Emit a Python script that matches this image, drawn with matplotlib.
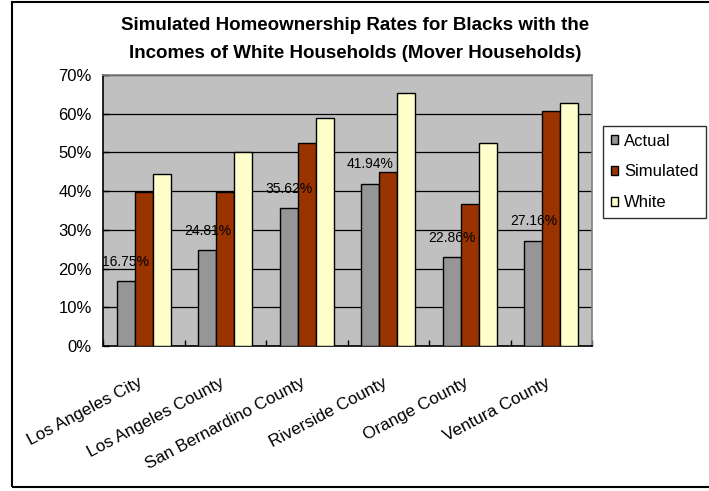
import matplotlib
matplotlib.use("Agg")
import matplotlib.pyplot as plt
from matplotlib.patches import Rectangle
import matplotlib.transforms as mtransforms
import numpy as np

plt.rcParams['font.family'] = ['Liberation Sans', 'DejaVu Sans']

categories = ["Los Angeles City", "Los Angeles County", "San Bernardino County",
              "Riverside County", "Orange County", "Ventura County"]
actual = [16.75, 24.81, 35.62, 41.94, 22.86, 27.16]
simulated = [39.7, 39.7, 52.4, 45.0, 36.7, 60.7]
white = [44.3, 50.0, 58.8, 65.3, 52.4, 62.7]
series_names = ["Actual", "Simulated", "White"]
colors = ["#969696", "#993300", "#FFFFCC"]
yticks = [0, 10, 20, 30, 40, 50, 60, 70]
title_lines = ["Simulated Homeownership Rates for Blacks with the",
               "Incomes of White Households (Mover Households)"]

fig = plt.figure(figsize=(7.09, 4.91), dpi=100)
W, H = 709, 491
ax = fig.add_axes([103 / W, 1 - 346 / H, (592 - 103) / W, (346 - 75) / H])
ax.set_facecolor("#C0C0C0")

x = np.arange(len(categories))
bw = 0.22
for i, (vals, c, name) in enumerate(zip([actual, simulated, white], colors, series_names)):
    ax.bar(x + (i - 1) * bw, vals, width=bw, color=c, edgecolor="black",
           linewidth=1.0, label=name, zorder=3)

for xi, v in zip(x, actual):
    ax.annotate(f"{v:.2f}%", (xi - bw, v), xytext=(0, 14), textcoords="offset points",
                ha="center", va="center", fontsize=10, zorder=4)

ax.set_xlim(-0.5, len(categories) - 0.5)
ax.set_ylim(0, 70)
ax.set_yticks(yticks)
ax.set_yticklabels([f"{t}%" for t in yticks], fontsize=12)
ax.yaxis.grid(True, color="black", linewidth=0.9, zorder=1)
ax.set_axisbelow(True)

ax.set_xticks(np.arange(len(categories) + 1) - 0.5, minor=False)
ax.set_xticklabels([])
ax.tick_params(axis="x", which="major", direction="in", length=4, width=1)
ax.set_xticks(x, minor=True)
ax.set_xticklabels(categories, minor=True, rotation=28, ha="right",
                   rotation_mode="anchor", fontsize=12.3)
ax.tick_params(axis="x", which="minor", length=0, pad=21)
ax.tick_params(axis="y", direction="in", length=4, width=1, pad=8)
offset = mtransforms.ScaledTranslation(-6 / 100, 0, fig.dpi_scale_trans)
for lbl in ax.get_xticklabels(minor=True):
    lbl.set_transform(lbl.get_transform() + offset)

for s in ["left", "bottom"]:
    ax.spines[s].set_color("black")
    ax.spines[s].set_linewidth(1.2)
for s in ["top", "right"]:
    ax.spines[s].set_color("#808080")
    ax.spines[s].set_linewidth(1.2)

fig.text(355 / W, 1 - 25 / H, title_lines[0], ha="center", va="center", fontsize=13.5,
         fontweight="bold")
fig.text(355 / W, 1 - 54 / H, title_lines[1], ha="center", va="center", fontsize=13.5,
         fontweight="bold")

leg = fig.legend(loc="upper left", bbox_to_anchor=(603 / W, 1 - 126 / H),
                 frameon=True, fancybox=False, fontsize=12, handlelength=0.45,
                 handleheight=0.45, handletextpad=0.35, borderpad=0.45,
                 labelspacing=0.95, borderaxespad=0)
leg.get_frame().set_edgecolor("black")
leg.get_frame().set_linewidth(1.0)

fig.patches.append(Rectangle((12 / W, 1 - 487 / H), (720 - 12) / W, (487 - 2) / H,
                             transform=fig.transFigure, fill=False,
                             edgecolor="black", linewidth=1.5))

fig.savefig("out.png", dpi=100)
